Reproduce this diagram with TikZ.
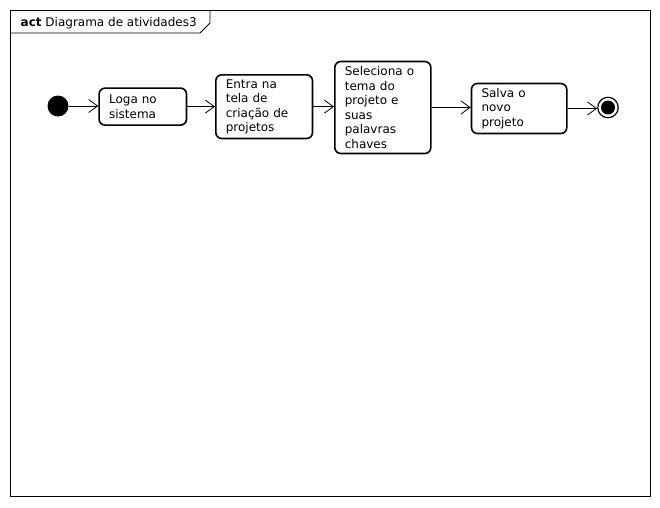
\documentclass[tikz,border=0pt]{standalone}
\usepackage{fontspec}
\setmainfont{DejaVu Sans}
\usetikzlibrary{arrows.meta,calc}
\begin{document}
\begin{tikzpicture}[x=1pt,y=-1pt,
  actbox/.style={draw,line width=1.6pt,rounded corners=6pt,align=left,inner xsep=10pt,inner ysep=0pt,
    font=\fontsize{12}{14.5}\selectfont,anchor=north west},
  flow/.style={draw,line width=0.8pt,-{Straight Barb[length=9pt,width=13pt,line width=0.8pt]}},
]
\useasboundingbox (0,0) rectangle (660,507);
% frame
\draw[line width=0.9pt] (10,10) rectangle (650,496);
\draw[line width=0.9pt] (10,33) -- (200,33) -- (210,23) -- (210,10);
\node[anchor=base west,inner sep=0pt,font=\fontsize{12}{14.5}\selectfont] (title) at (20.5,26) {\textbf{act} Diagrama de atividades3};
% initial
\node[circle,fill=black,minimum size=21pt,inner sep=0pt] (init) at (58,106) {};
% boxes
\node[actbox,minimum width=87.4pt,minimum height=37pt,text width=67.4pt] (b1) at (98.3,87.3) {Loga no\\sistema};
\node[actbox,minimum width=96.7pt,minimum height=63.7pt,text width=76.7pt] (b2) at (215,74) {Entra na\\tela de\\criação de\\projetos};
\node[actbox,minimum width=96pt,minimum height=92pt,text width=76pt] (b3) at (334,60.7) {Seleciona o\\tema do\\projeto e\\suas\\palavras\\chaves};
\node[actbox,minimum width=95.3pt,minimum height=50pt,text width=75.3pt] (b4) at (470.7,82.7) {Salva o\\novo\\projeto};
% final
\node[circle,draw,line width=1.2pt,minimum size=20.5pt,inner sep=0pt] (fin) at (608,107.5) {};
\fill (fin.center) circle (7pt);
% flows
\draw[flow] (init.east) -- (b1.west |- init.east);
\draw[flow] (b1.east) -- (b2.west |- b1.east);
\draw[flow] (b2.east) -- (b3.west |- b2.east);
\draw[flow] (b3.east) -- (b4.west |- b3.east);
\draw[flow] (b4.east) -- (fin.west |- b4.east);
\end{tikzpicture}
\end{document}
